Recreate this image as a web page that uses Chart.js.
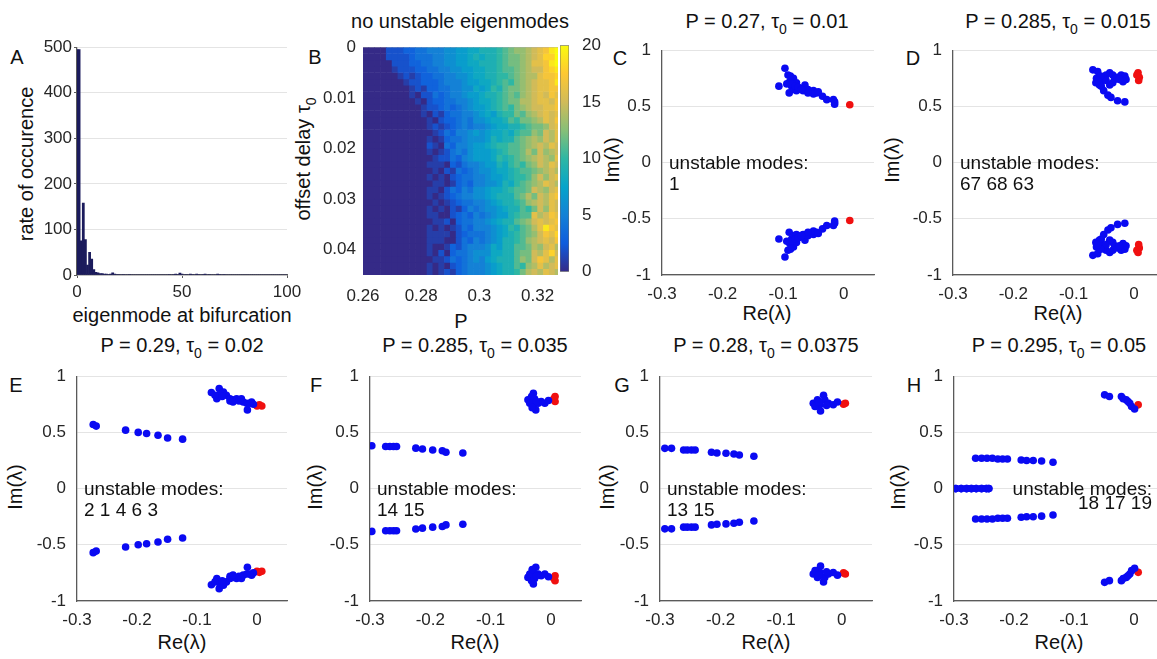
<!DOCTYPE html>
<html>
<head>
<meta charset="utf-8">
<script src="https://cdn.jsdelivr.net/npm/chart.js@4.4.1/dist/chart.umd.min.js"></script>
<style>
  body { margin: 0; width: 1157px; height: 659px; overflow: hidden; background: #fff; position: relative;
         font-family: "Liberation Sans", Arial, Helvetica, sans-serif; color: #111; }
  .lbl { position: absolute; white-space: nowrap; transform: translate(-50%, -50%); font-size: 20px; line-height: 1; }
  .rot { transform: translate(-50%, -50%) rotate(-90deg); }
  .lbl sub { font-size: 70%; vertical-align: -0.4em; line-height: 0; }
</style>
</head>
<body>

<!-- panel letters -->
<div class="lbl" style="left:17px;top:57px">A</div>
<div class="lbl" style="left:315px;top:57px">B</div>
<div class="lbl" style="left:620px;top:58px">C</div>
<div class="lbl" style="left:913px;top:58px">D</div>
<div class="lbl" style="left:16px;top:385px">E</div>
<div class="lbl" style="left:316px;top:385px">F</div>
<div class="lbl" style="left:622px;top:385px">G</div>
<div class="lbl" style="left:914px;top:385px">H</div>

<!-- titles -->
<div class="lbl" style="left:460px;top:21px">no unstable eigenmodes</div>
<div class="lbl" style="left:767px;top:21px">P = 0.27, τ<sub>0</sub> = 0.01</div>
<div class="lbl" style="left:1058px;top:21px">P = 0.285, τ<sub>0</sub> = 0.015</div>
<div class="lbl" style="left:182px;top:345px">P = 0.29, τ<sub>0</sub> = 0.02</div>
<div class="lbl" style="left:475px;top:345px">P = 0.285, τ<sub>0</sub> = 0.035</div>
<div class="lbl" style="left:766px;top:345px">P = 0.28, τ<sub>0</sub> = 0.0375</div>
<div class="lbl" style="left:1059px;top:345px">P = 0.295, τ<sub>0</sub> = 0.05</div>

<!-- axis labels -->
<div class="lbl" style="left:182px;top:315px">eigenmode at bifurcation</div>
<div class="lbl" style="left:461px;top:321px">P</div>
<div class="lbl" style="left:767px;top:313px">Re(λ)</div>
<div class="lbl" style="left:1058px;top:313px">Re(λ)</div>
<div class="lbl" style="left:182px;top:642px">Re(λ)</div>
<div class="lbl" style="left:475px;top:642px">Re(λ)</div>
<div class="lbl" style="left:766px;top:642px">Re(λ)</div>
<div class="lbl" style="left:1059px;top:642px">Re(λ)</div>

<div class="lbl rot" style="left:26px;top:164px">rate of occurence</div>
<div class="lbl rot" style="left:303px;top:159px">offset delay τ<sub>0</sub></div>
<div class="lbl rot" style="left:612px;top:160px">Im(λ)</div>
<div class="lbl rot" style="left:892px;top:160px">Im(λ)</div>
<div class="lbl rot" style="left:15px;top:487px">Im(λ)</div>
<div class="lbl rot" style="left:315px;top:487px">Im(λ)</div>
<div class="lbl rot" style="left:607px;top:487px">Im(λ)</div>
<div class="lbl rot" style="left:898px;top:487px">Im(λ)</div>

<script>
// ---- A: histogram of the eigenmode index at bifurcation (bins 0..100)
const histCounts = [
  495, 495, 75, 158, 78, 22, 50, 35, 12, 6, 5, 3, 3, 2, 2, 1, 2, 5, 2, 1, 1,
  0, 1, 0, 0, 1, 0, 0, 0, 0, 0, 0, 0, 0, 0, 0, 0, 0, 0, 0, 0,
  0, 0, 0, 1, 0, 1, 2, 1, 4, 2, 0, 1, 0, 2, 1, 0, 2, 1, 0, 1,
  2, 0, 1, 0, 0, 0, 2, 1, 0, 1, 0, 0, 0, 0, 0, 0, 0, 0, 0, 0,
  0, 0, 0, 0, 0, 0, 0, 0, 0, 0, 0, 0, 0, 0, 0, 0, 0, 0, 0, 0
];
const histXTicks = [0, 50, 100];
const histYTicks = [0, 100, 200, 300, 400, 500];

// ---- B: number of unstable eigenmodes over (P, tau0)
const heatP = [0.261, 0.263, 0.265, 0.267, 0.269, 0.271, 0.273, 0.275, 0.277, 0.279, 0.281, 0.283,
  0.285, 0.287, 0.289, 0.291, 0.293, 0.295, 0.297, 0.299, 0.301, 0.303, 0.305, 0.307, 0.309,
  0.311, 0.313, 0.315, 0.317, 0.319, 0.321, 0.323, 0.325, 0.327];
const tauEdges = [0, 0.00125, 0.0025, 0.00375, 0.005, 0.00625, 0.0075, 0.00875, 0.01, 0.01125,
  0.0125, 0.01375, 0.015, 0.01625, 0.0175, 0.01875, 0.02, 0.02125, 0.0225, 0.02375, 0.025,
  0.02625, 0.0275, 0.02875, 0.03, 0.03125, 0.0325, 0.03375, 0.035, 0.03625, 0.0375, 0.03875,
  0.04, 0.04125, 0.0425, 0.04375, 0.045];
// one character per cell: 0-9 then a=10 ... k=20
const levelChars = "0123456789abcdefghijk";
const heatRows = [
  "00002223344555667788999abcddefghjk",
  "00002222344455667789899abccdefgiik",
  "00000222334455667788999abccdegghjk",
  "00000122233445566778899abbcdeffhij",
  "00000012123344556678899aabcdeeghhi",
  "00000001223334555677889abacdefgghj",
  "0000000012133445566878a9bccdefgghh",
  "00000000102243455677899abcbdefgfhg",
  "00000000010233445567889abcceefggfh",
  "00000000001223434567789abacdeffggh",
  "000000000010213445567879aacbdefgfg",
  "0000000000010233454667889baccdegfh",
  "000000000001212345455678899abccdfg",
  "00000000000012435567678898abbdcfeg",
  "00000000000101344566679899bcdedfeg",
  "00000000000210435567789aabbcdefegf",
  "000000000001012454677789abbcecfdef",
  "00000000000012243567778a9abcdefedg",
  "0000000000011103245567798abacdfegf",
  "00000000000010214345667889abbcdefe",
  "00000000000101023445567789aabdfdfg",
  "00000000000011013435566798abcdegfe",
  "0000000000011024354667889abbcfedfg",
  "00000000000101234556678999bcecfegh",
  "00000000000010123445567899abdefegf",
  "000000000001010213545667899bacfdgf",
  "00000000000110023435456779abbgefhg",
  "00000000000011203445567899bcdfgfgh",
  "0000000000010101243555678a9bcegjhg",
  "00000000000111102344456789abcdfhgi",
  "00000000000111002435456799abdefgfh",
  "00000000000100132455568799bbcedfge",
  "00000000000102034456668899bccfegif",
  "00000000000011243456578999bdcfhgeg",
  "00000000000101023455567899badegefg",
  "00000000000101213455567899acefegfe"
];
const heatXTicks = [0.26, 0.28, 0.3, 0.32];
const heatYTicks = [0, 0.01, 0.02, 0.03, 0.04];
const colorbarRange = [0, 20];
const colorbarTicks = [0, 5, 10, 15, 20];

// ---- C..H: eigenvalues (Re, Im) in the upper half plane; lower half is the conjugate
const cBlue = [[-0.097, 0.84], [-0.107, 0.68], [-0.092, 0.78], [-0.089, 0.72], [-0.086, 0.68], [-0.090, 0.62],
  [-0.083, 0.75], [-0.078, 0.71], [-0.072, 0.66], [-0.064, 0.69], [-0.059, 0.65], [-0.050, 0.64], [-0.045, 0.62],
  [-0.050, 0.61], [-0.035, 0.59], [-0.028, 0.56], [-0.017, 0.56], [-0.015, 0.54], [-0.015, 0.52], [-0.082, 0.65],
  [-0.094, 0.70], [-0.078, 0.64], [-0.067, 0.64], [-0.059, 0.62], [-0.042, 0.63], [-0.088, 0.77], [-0.085, 0.70],
  [-0.080, 0.68], [-0.075, 0.67], [-0.070, 0.65]];
const cRed = [[0.010, 0.515]];

const dBlue = [[-0.068, 0.825], [-0.060, 0.81], [-0.062, 0.75], [-0.063, 0.71], [-0.057, 0.72], [-0.051, 0.75],
  [-0.046, 0.78], [-0.040, 0.80], [-0.035, 0.78], [-0.032, 0.74], [-0.027, 0.76], [-0.021, 0.78], [-0.015, 0.77],
  [-0.013, 0.74], [-0.018, 0.72], [-0.035, 0.71], [-0.054, 0.68], [-0.050, 0.64], [-0.043, 0.60], [-0.038, 0.58],
  [-0.027, 0.55], [-0.015, 0.54], [-0.057, 0.69], [-0.040, 0.69], [-0.046, 0.73], [-0.055, 0.77], [-0.060, 0.73],
  [-0.024, 0.74]];
const dRed = [[0.007, 0.80], [0.009, 0.76], [0.008, 0.73], [0.005, 0.78]];

const eBlue = [[-0.273, 0.57], [-0.268, 0.556], [-0.219, 0.52], [-0.198, 0.50], [-0.184, 0.49], [-0.165, 0.475],
  [-0.149, 0.45], [-0.124, 0.44], [-0.076, 0.855], [-0.063, 0.89], [-0.062, 0.84], [-0.067, 0.80], [-0.056, 0.86],
  [-0.051, 0.83], [-0.045, 0.80], [-0.040, 0.79], [-0.034, 0.80], [-0.030, 0.78], [-0.026, 0.80], [-0.023, 0.77],
  [-0.017, 0.76], [-0.016, 0.70], [-0.009, 0.77], [-0.006, 0.75], [-0.070, 0.83], [-0.045, 0.78], [-0.040, 0.77],
  [-0.058, 0.82], [-0.012, 0.76]];
const eRed = [[0.004, 0.745], [0.008, 0.735], [0.000, 0.735]];

const fBlue = [[-0.297, 0.381], [-0.274, 0.375], [-0.267, 0.375], [-0.261, 0.375], [-0.256, 0.375], [-0.224, 0.36],
  [-0.213, 0.352], [-0.196, 0.343], [-0.180, 0.337], [-0.174, 0.323], [-0.146, 0.317], [-0.029, 0.848],
  [-0.038, 0.79], [-0.032, 0.82], [-0.027, 0.80], [-0.029, 0.746], [-0.025, 0.70], [-0.021, 0.76], [-0.016, 0.775],
  [-0.010, 0.76], [-0.035, 0.76], [-0.024, 0.775], [-0.004, 0.784], [-0.031, 0.72]];
const fRed = [[0.007, 0.82], [0.007, 0.775], [0.005, 0.80]];

const gBlue = [[-0.292, 0.358], [-0.281, 0.358], [-0.261, 0.343], [-0.255, 0.343], [-0.248, 0.343], [-0.242, 0.343],
  [-0.215, 0.323], [-0.206, 0.317], [-0.191, 0.314], [-0.178, 0.308], [-0.169, 0.299], [-0.145, 0.288],
  [-0.047, 0.76], [-0.040, 0.79], [-0.030, 0.83], [-0.028, 0.79], [-0.036, 0.746], [-0.035, 0.69], [-0.022, 0.76],
  [-0.014, 0.746], [-0.007, 0.77], [-0.044, 0.73], [-0.025, 0.74], [-0.038, 0.77]];
const gRed = [[0.006, 0.76], [0.003, 0.75]];

const hBlue = [[-0.297, 0], [-0.288, 0], [-0.279, 0], [-0.271, 0], [-0.263, 0], [-0.254, 0], [-0.246, 0], [-0.242, 0],
  [-0.264, 0.27], [-0.254, 0.27], [-0.245, 0.27], [-0.236, 0.27], [-0.227, 0.264], [-0.219, 0.264], [-0.211, 0.264],
  [-0.188, 0.255], [-0.179, 0.25], [-0.168, 0.25], [-0.154, 0.245], [-0.135, 0.235],
  [-0.049, 0.834], [-0.041, 0.819], [-0.021, 0.819], [-0.013, 0.79], [-0.007, 0.76], [-0.004, 0.73],
  [0.001, 0.708], [-0.018, 0.80], [-0.010, 0.775]];
const hRed = [[0.007, 0.745]];

const reTicks = [-0.3, -0.2, -0.1, 0];
const imTicks = [-1, -0.5, 0, 0.5, 1];

const cModes = ["unstable modes:", "1"];
const dModes = ["unstable modes:", "67 68 63"];
const eModes = ["unstable modes:", "2 1 4 6 3"];
const fModes = ["unstable modes:", "14 15"];
const gModes = ["unstable modes:", "13 15"];
const hModes = ["unstable modes:", "18 17 19"];

// ---------------------------------------------------------------------------
const FONT = '"Liberation Sans", Arial, Helvetica, sans-serif';
Chart.defaults.font.family = FONT;
Chart.defaults.font.size = 17;
Chart.defaults.color = "#262626";
Chart.defaults.animation = false;
Chart.defaults.events = [];
Chart.defaults.plugins.legend.display = false;
Chart.defaults.plugins.tooltip.enabled = false;

const axisColor = "#5a5a5a";
const gridColor = "#e4e4e4";
const noTick = "rgba(0,0,0,0)";

const parulaStops = ["#352a87", "#0f5cdd", "#1481d6", "#06a4ca", "#2eb7a4", "#87bf77", "#d1bb59", "#fec832", "#f9fb0e"];

function hexRgb(h) {
  return [1, 3, 5].map(i => parseInt(h.slice(i, i + 2), 16));
}

function parula(t) {
  t = Math.max(0, Math.min(1, t));
  const s = t * (parulaStops.length - 1);
  const i = Math.min(Math.floor(s), parulaStops.length - 2);
  const f = s - i;
  const a = hexRgb(parulaStops[i]), b = hexRgb(parulaStops[i + 1]);
  const c = a.map((v, k) => Math.round(v + (b[k] - v) * f));
  return `rgb(${c[0]},${c[1]},${c[2]})`;
}

// fixed tick list + plain number labels
const fixedTicks = list => s => { s.ticks = list.map(v => ({ value: v })); };
const plain = v => String(v);

// canvas whose chart area lands exactly on [L, T, R, B]
function frame(L, T, R, B) {
  const w = R - L + 60 + 24, h = B - T + 12 + 36;
  const c = document.createElement("canvas");
  c.width = w; c.height = h;
  c.style.cssText = `position:absolute;left:${L - 60}px;top:${T - 12}px;width:${w}px;height:${h}px`;
  document.body.appendChild(c);
  return c;
}
const framePad = { left: 0, top: 12, right: 24, bottom: 0 };
const fitX = s => { s.height = 36; };
const fitY = s => { s.width = 60; };

const notePlugin = {
  id: "modeNote",
  afterDatasetsDraw(chart, args, opts) {
    if (!opts.lines) return;
    const { ctx, scales } = chart;
    ctx.save();
    ctx.font = "19px " + FONT;
    ctx.fillStyle = "#111";
    ctx.textBaseline = "middle";
    ctx.textAlign = opts.align;
    const px = scales.x.getPixelForValue(opts.x) + opts.dx;
    const py = scales.y.getPixelForValue(0) + 1;
    opts.lines.forEach((t, i) => ctx.fillText(t, px, py + i * opts.gap));
    ctx.restore();
  }
};

// ---- A
new Chart(frame(77, 47, 287, 275), {
  type: "bar",
  data: {
    datasets: [{
      data: histCounts.map((v, i) => ({ x: i, y: v })),
      backgroundColor: "#1b1b5c",
      barPercentage: 1,
      categoryPercentage: 1,
      borderWidth: 0
    }]
  },
  options: {
    responsive: false,
    layout: { padding: framePad },
    scales: {
      x: {
        type: "linear", min: 0, max: 100, offset: false, afterFit: fitX,
        afterBuildTicks: fixedTicks(histXTicks),
        ticks: { padding: 4, maxRotation: 0, callback: plain },
        grid: { offset: false, drawOnChartArea: false, tickLength: 3, tickColor: axisColor },
        border: { color: axisColor, width: 1.3 }
      },
      y: {
        min: 0, max: 500, afterFit: fitY,
        afterBuildTicks: fixedTicks(histYTicks),
        ticks: { padding: 2, callback: plain },
        grid: { color: gridColor, tickLength: 3, tickColor: axisColor },
        border: { color: axisColor, width: 1.3 }
      }
    }
  }
});

// ---- B heatmap
new Chart(frame(363, 42, 558, 275), {
  type: "bar",
  data: {
    datasets: heatRows.map((row, r) => ({
      data: heatP.map(p => ({ x: p, y: [tauEdges[r], tauEdges[r + 1]] })),
      backgroundColor: heatP.map((p, k) => parula(levelChars.indexOf(row[k]) / 20)),
      barPercentage: 1,
      categoryPercentage: 1,
      grouped: false,
      borderWidth: 0
    }))
  },
  options: {
    responsive: false,
    layout: { padding: framePad },
    scales: {
      x: {
        type: "linear", min: 0.26, max: 0.327, offset: false, afterFit: fitX,
        afterBuildTicks: fixedTicks(heatXTicks),
        ticks: { padding: 3, maxRotation: 0, callback: plain },
        grid: { display: false, offset: false },
        border: { display: false }
      },
      y: {
        type: "linear", min: 0, max: 0.045, reverse: true, afterFit: fitY, z: 1,
        afterBuildTicks: fixedTicks(heatYTicks),
        ticks: { padding: 7, callback: plain },
        grid: { color: "rgba(25,25,40,0.35)", drawTicks: false },
        border: { display: false }
      }
    }
  }
});

// colorbar
(function () {
  const c = document.createElement("canvas");
  c.width = 60; c.height = 257;
  c.style.cssText = "position:absolute;left:560px;top:30px;width:60px;height:257px";
  document.body.appendChild(c);
  new Chart(c, {
    type: "bar",
    data: {
      labels: ["Im"],
      datasets: [{
        data: [colorbarRange],
        barPercentage: 1,
        categoryPercentage: 1,
        borderWidth: 0.8,
        borderColor: "#6a6a6a",
        borderSkipped: false,
        backgroundColor: ctx => {
          const a = ctx.chart.chartArea;
          if (!a) return parula(0.5);
          const g = ctx.chart.ctx.createLinearGradient(0, a.bottom, 0, a.top);
          parulaStops.forEach((col, i) => g.addColorStop(i / (parulaStops.length - 1), col));
          return g;
        }
      }]
    },
    options: {
      responsive: false,
      layout: { padding: { left: 0, top: 12, right: 0, bottom: 12 } },
      scales: {
        x: { display: false },
        y: {
          position: "right", min: 0, max: 20, afterFit: s => { s.width = 51; },
          afterBuildTicks: fixedTicks(colorbarTicks),
          ticks: { padding: 5, callback: plain },
          grid: { display: false },
          border: { display: false }
        }
      }
    }
  });
})();

// ---- C..H
function eigenPanel(rect, blue, red, note) {
  const withConj = pts => pts.concat(pts.map(p => [p[0], -p[1]])).map(p => ({ x: p[0], y: p[1] }));
  new Chart(frame(...rect), {
    type: "scatter",
    data: {
      datasets: [
        { data: withConj(blue), backgroundColor: "#0a0af2", borderWidth: 0, pointRadius: 3.8 },
        { data: withConj(red), backgroundColor: "#f01010", borderWidth: 0, pointRadius: 3.8 }
      ]
    },
    options: {
      responsive: false,
      layout: { padding: framePad },
      plugins: { modeNote: note },
      scales: {
        x: {
          type: "linear", min: -0.3, max: 0.05, afterFit: fitX,
          afterBuildTicks: fixedTicks(reTicks),
          ticks: { padding: 3, maxRotation: 0, callback: plain },
          grid: { drawOnChartArea: false, tickLength: 6, tickColor: noTick },
          border: { color: axisColor, width: 1.3 }
        },
        y: {
          min: -1, max: 1, afterFit: fitY,
          afterBuildTicks: fixedTicks(imTicks),
          ticks: { padding: 5, callback: plain },
          grid: { color: gridColor, tickLength: 6, tickColor: noTick },
          border: { color: axisColor, width: 1.3 }
        }
      }
    },
    plugins: [notePlugin]
  });
}

const leftNote = lines => ({ lines, x: -0.3, dx: 7, align: "left", gap: 21.5 });

eigenPanel([662, 47, 874, 275], cBlue, cRed, leftNote(cModes));
eigenPanel([953, 47, 1164, 275], dBlue, dRed, leftNote(dModes));
eigenPanel([77, 373, 287, 601], eBlue, eRed, leftNote(eModes));
eigenPanel([370, 373, 581, 601], fBlue, fRed, leftNote(fModes));
eigenPanel([660, 373, 872, 601], gBlue, gRed, leftNote(gModes));
eigenPanel([954, 373, 1164, 601], hBlue, hRed, { lines: hModes, x: 0.03, dx: 0, align: "right", gap: 14 });
</script>
</body>
</html>
